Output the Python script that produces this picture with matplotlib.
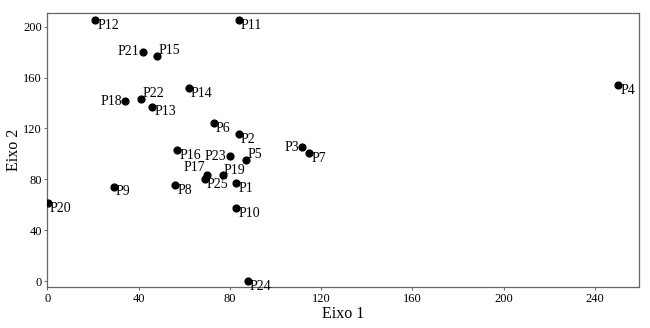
import matplotlib
matplotlib.use("Agg")
import matplotlib.pyplot as plt

# Coordenadas
labels = ["P1", "P2", "P3", "P4", "P5", "P6", "P7", "P8", "P9", "P10",
          "P11", "P12", "P13", "P14", "P15", "P16", "P17", "P18", "P19", "P20",
          "P21", "P22", "P23", "P24", "P25"]
eixo1 = [82.8, 83.8, 111.8, 250.3, 87.0, 72.9, 114.8, 55.9, 29.0, 82.8,
         83.8, 21.0, 46.0, 61.9, 48.0, 56.8, 69.9, 34.2, 76.8, 0.1,
         41.9, 41.0, 79.9, 87.7, 68.9]
eixo2 = [77.1, 115.3, 105.4, 154.1, 95.1, 124.2, 100.4, 75.3, 74.2, 57.1,
         205.0, 205.0, 137.1, 151.5, 177.2, 103.0, 83.1, 141.3, 83.1, 61.1,
         180.3, 143.1, 98.3, 0.0, 80.0]

# posição do rótulo: lr = baixo-direita, l = esquerda, ur = cima-direita, ul = cima-esquerda
posicoes = {"P3": "l", "P18": "l", "P21": "l", "P23": "l",
            "P5": "ur", "P15": "ur", "P19": "ur", "P22": "ur", "P17": "ul"}

plt.rcParams["font.family"] = ["Liberation Serif", "DejaVu Serif"]

fig, ax = plt.subplots(figsize=(6.5, 3.28), dpi=100)
fig.subplots_adjust(left=0.073, right=0.983, top=0.96, bottom=0.125)

ax.scatter(eixo1, eixo2, s=24, color="black", zorder=3)

fs = 10
for nome, x, y in zip(labels, eixo1, eixo2):
    pos = posicoes.get(nome, "lr")
    if pos == "lr":
        ax.annotate(nome, (x, y), xytext=(1.5, 1), textcoords="offset points",
                    ha="left", va="top", fontsize=fs)
    elif pos == "l":
        ax.annotate(nome, (x, y), xytext=(-2.5, 0), textcoords="offset points",
                    ha="right", va="center", fontsize=fs)
    elif pos == "ur":
        ax.annotate(nome, (x, y), xytext=(1, -1), textcoords="offset points",
                    ha="left", va="bottom", fontsize=fs)
    else:
        ax.annotate(nome, (x, y), xytext=(-1, 1), textcoords="offset points",
                    ha="right", va="bottom", fontsize=fs)

ax.set_xlim(0, 259.3)
ax.set_ylim(-4.7, 210.7)
ax.set_xticks(range(0, 241, 40))
ax.set_yticks(range(0, 201, 40))
ax.tick_params(labelsize=9, length=2, width=0.6, color="#555555", pad=2)

for s in ax.spines.values():
    s.set_color("#666666")
    s.set_linewidth(0.9)

ax.set_xlabel("Eixo 1", fontsize=11.5, labelpad=1)
ax.set_ylabel("Eixo 2", fontsize=11.5, labelpad=1)

fig.savefig("out.png", dpi=100)
